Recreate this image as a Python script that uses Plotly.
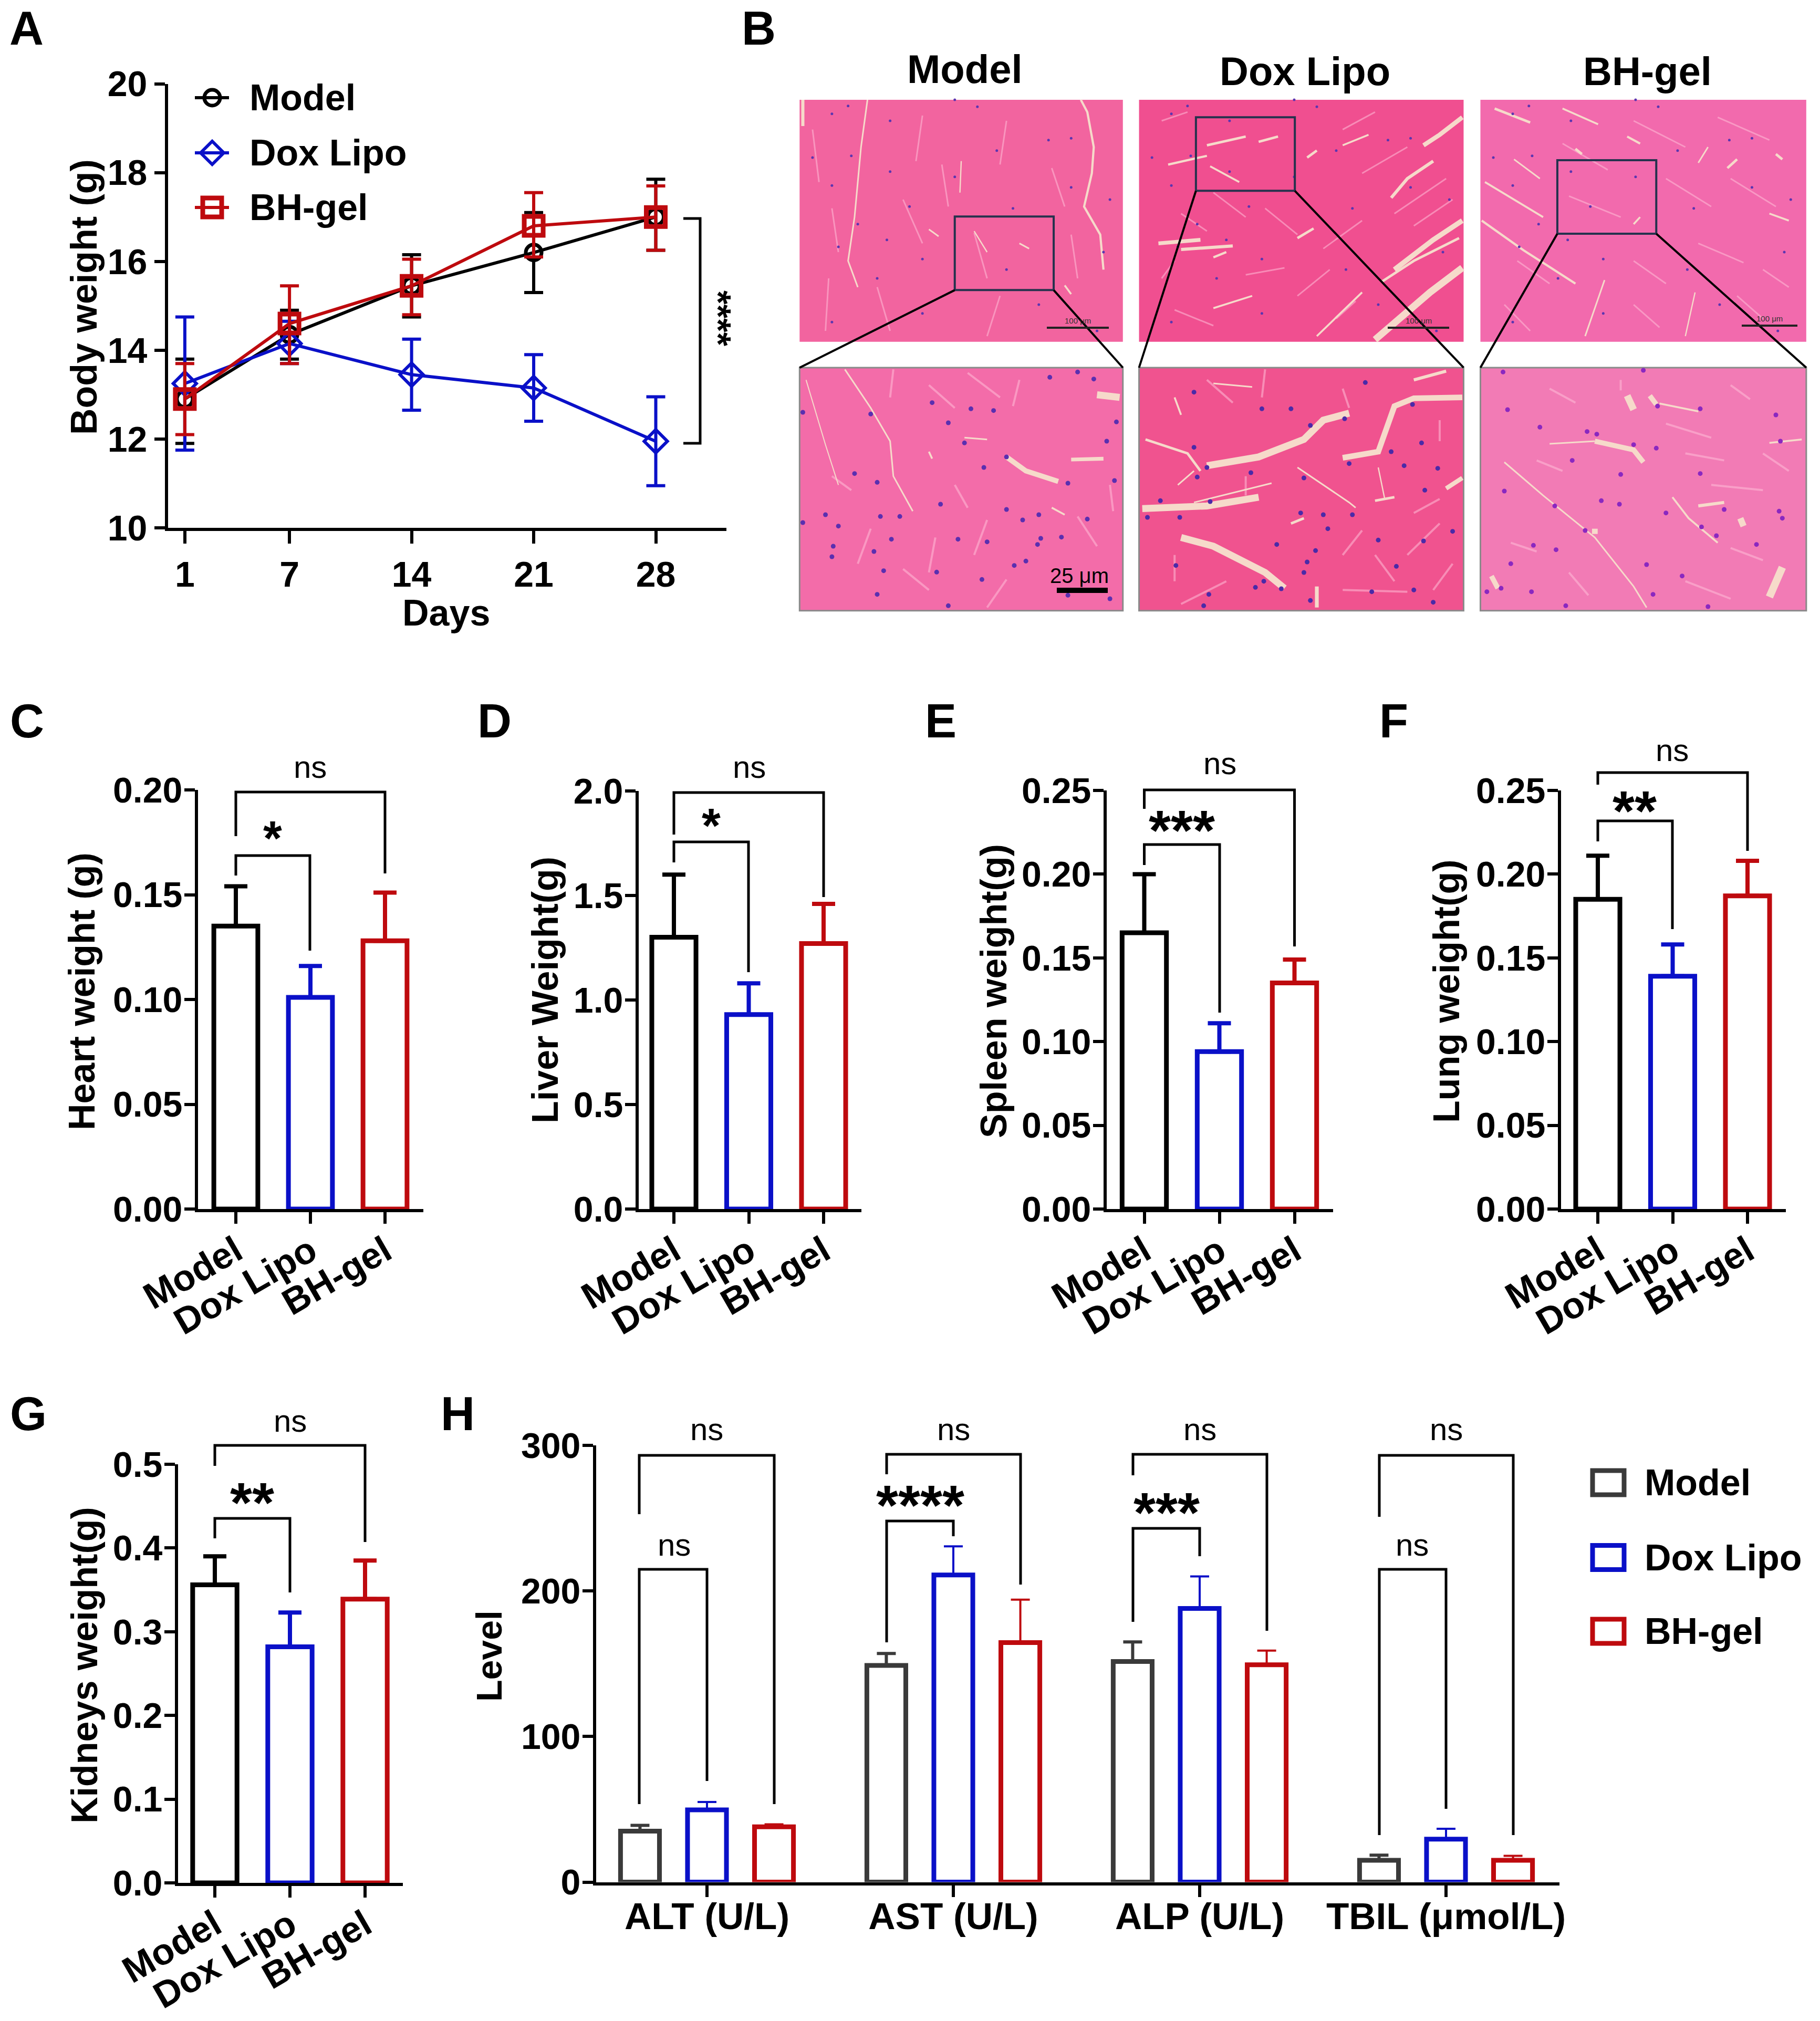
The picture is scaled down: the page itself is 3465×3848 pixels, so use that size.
import plotly.graph_objects as go

W, H = 3465, 3848
FONT = "Liberation Sans"
BLACK, BLUE, RED, GREY = "#000000", "#0A10C8", "#BE0A0E", "#3A3A3A"
GROUPS = ["Model", "Dox Lipo", "BH-gel"]

# ---- Panel A data
days = [1, 7, 14, 21, 28]
model_w = [12.9, 14.35, 15.45, 16.2, 17.0]
model_hi = [13.8, 14.9, 16.15, 17.1, 17.85]
model_lo = [11.9, 13.8, 14.75, 15.3, 16.25]
dox_w = [13.25, 14.15, 13.45, 13.15, 11.95]
dox_hi = [14.75, 14.65, 14.25, 13.9, 12.95]
dox_lo = [11.75, 13.7, 12.65, 12.4, 10.95]
bh_w = [12.9, 14.6, 15.45, 16.8, 17.0]
bh_hi = [13.7, 15.45, 16.05, 17.55, 17.7]
bh_lo = [12.1, 13.7, 14.8, 16.1, 16.25]

# ---- Organ weights: mean and top of error bar for Model, Dox Lipo, BH-gel
heart = [0.135, 0.101, 0.128]
heart_top = [0.154, 0.116, 0.151]
liver = [1.30, 0.93, 1.27]
liver_top = [1.60, 1.08, 1.46]
spleen = [0.165, 0.094, 0.135]
spleen_top = [0.200, 0.111, 0.149]
lung = [0.185, 0.139, 0.187]
lung_top = [0.211, 0.158, 0.208]
kidney = [0.356, 0.282, 0.339]
kidney_top = [0.390, 0.323, 0.385]

# ---- Panel H
tests = ["ALT (U/L)", "AST (U/L)", "ALP (U/L)", "TBIL (μmol/L)"]
h_model = [35, 148.8, 151.5, 15]
h_model_top = [39, 157, 165, 18.5]
h_dox = [49.6, 211, 188, 29.5]
h_dox_top = [55, 230.6, 210, 36.6]
h_bh = [38, 164.5, 149.3, 15]
h_bh_top = [39.7, 194, 159, 18]

fig = go.Figure()
layout = dict(width=W, height=H, margin=dict(l=0, r=0, t=0, b=0), autosize=False,
              paper_bgcolor="white", plot_bgcolor="rgba(0,0,0,0)", showlegend=False,
              barmode="overlay", font=dict(family=FONT, color="black"))
shapes, annos = [], []


def dom_x(a, b):
    return [a / W, b / W]


def dom_y(top, bottom):
    return [1 - bottom / H, 1 - top / H]


def text(x, y, s, size, bold=True, angle=0, anchor="center", family=FONT, color="black"):
    annos.append(dict(xref="paper", yref="paper", x=x / W, y=1 - y / H, text=s, showarrow=False,
                      xanchor=anchor, yanchor="middle", textangle=angle,
                      font=dict(family=family, size=size, color=color, weight=700 if bold else 400)))


def seg(pts, color="black", width=5, layer="above"):
    path = "M" + " L".join(f"{x / W:.5f},{1 - y / H:.5f}" for x, y in pts)
    shapes.append(dict(type="path", xref="paper", yref="paper", path=path,
                       line=dict(color=color, width=width), layer=layer))


def rect(x0, y0, x1, y1, fill=None, line=None, width=0, layer="above"):
    shapes.append(dict(type="rect", xref="paper", yref="paper", x0=x0 / W, x1=x1 / W,
                       y0=1 - y0 / H, y1=1 - y1 / H, fillcolor=fill or "rgba(0,0,0,0)",
                       line=dict(color=line or "rgba(0,0,0,0)", width=width), layer=layer))


def axes(i, left, right, top, bottom, xkw, ykw):
    base = dict(showgrid=False, zeroline=False, showline=True, linecolor="black", linewidth=6,
                ticks="outside", tickcolor="black", tickwidth=6, automargin=False,
                tickfont=dict(family=FONT, size=68, color="black", weight=700))
    suffix = "" if i == 1 else str(i)
    layout["xaxis" + suffix] = dict(base, domain=dom_x(left, right), anchor="y" + suffix, **xkw)
    layout["yaxis" + suffix] = dict(base, domain=dom_y(top, bottom), anchor="x" + suffix, ticklen=20, **ykw)


def bracket(x0, x1, top, drop0, drop1, width=5):
    seg([(x0, drop0), (x0, top), (x1, top), (x1, drop1)], width=width)


def stars(x, y, s, size=108):
    text(x, y + 0.17 * size - 5, s, size)


def ns(x, y):
    text(x, y - 5, "ns", 60, bold=False)


# ---- Panel A
axes(1, 320, 1383, 159.5, 1005,
     dict(range=[0.04, 32.05], tickvals=days, ticktext=[str(d) for d in days], ticklen=24),
     dict(range=[10, 20], tickvals=[10, 12, 14, 16, 18, 20]))
for name, w, hi, lo, color, sym, size, lw in [
    ("Model", model_w, model_hi, model_lo, BLACK, "circle-open", 30, 7),
    ("Dox Lipo", dox_w, dox_hi, dox_lo, BLUE, "diamond-open", 34, 6),
    ("BH-gel", bh_w, bh_hi, bh_lo, RED, "square-open", 36, 9),
]:
    fig.add_trace(go.Scatter(
        x=days, y=w, name=name, mode="lines+markers", cliponaxis=False,
        line=dict(color=color, width=6),
        marker=dict(symbol=sym, size=size, color=color, line=dict(color=color, width=lw)),
        error_y=dict(type="data", symmetric=False,
                     array=[a - b for a, b in zip(hi, w)], arrayminus=[b - c for b, c in zip(w, lo)],
                     color=color, thickness=6, width=18),
        xaxis="x", yaxis="y"))
text(849, 1167, "Days", 70)
text(160, 566, "Body weight (g)", 70, angle=-90)
seg([(1301, 416), (1333, 416), (1333, 844), (1301, 844)], width=5)
text(1368, 606, "****", 68, angle=90)

# ---- Panels C-G
panels = [
    (2, 377, 806, 1504, 2302, 449, 142, [0, 0.20], ["0.00", "0.05", "0.10", "0.15", "0.20"], heart, heart_top, "Heart weight (g)", 156, 1888),
    (3, 1216, 1640, 1506, 2302, 1283, 142.5, [0, 2.0], ["0.0", "0.5", "1.0", "1.5", "2.0"], liver, liver_top, "Liver Weight(g)", 1038, 1885),
    (4, 2107, 2538, 1505, 2302, 2178.5, 143, [0, 0.25], ["0.00", "0.05", "0.10", "0.15", "0.20", "0.25"], spleen, spleen_top, "Spleen weight(g)", 1892, 1887),
    (5, 2972, 3400, 1505, 2302, 3042, 142.5, [0, 0.25], ["0.00", "0.05", "0.10", "0.15", "0.20", "0.25"], lung, lung_top, "Lung weight(g)", 2754, 1887),
    (6, 339, 767, 2788, 3585, 409, 143, [0, 0.5], ["0.0", "0.1", "0.2", "0.3", "0.4", "0.5"], kidney, kidney_top, "Kidneys weight(g)", 161, 3171),
]
for i, l, r, t, b, c0, step, yr, yt, vals, tops, title, tx, ty_ in panels:
    axes(i, l, r, t, b,
         dict(type="category", categoryorder="array", categoryarray=GROUPS,
              range=[(l - c0) / step, (r - c0) / step], tickangle=-30, ticklen=22, ticklabelstandoff=-16,
              tickfont=dict(family=FONT, size=70, color="black", weight=700)),
         dict(range=yr, tickvals=[float(v) for v in yt], ticktext=yt, ticklabelstandoff=-10))
    for g, v, top, color in zip(GROUPS, vals, tops, [BLACK, BLUE, RED]):
        fig.add_trace(go.Bar(
            x=[g], y=[v], name=g, width=0.59, cliponaxis=False,
            marker=dict(color="white", line=dict(color=color, width=9)),
            error_y=dict(type="data", symmetric=False, array=[top - v], arrayminus=[0],
                         color=color, thickness=8, width=22),
            xaxis=f"x{i}", yaxis=f"y{i}"))
    text(tx, ty_, title, 70, angle=-90)

bracket(449, 733, 1508, 1592, 1663); bracket(449, 590, 1629, 1667, 1810)
ns(590, 1465); stars(519, 1585, "*", 92)
bracket(1283, 1568, 1509, 1589, 1708); bracket(1283, 1425, 1603, 1642, 1851)
ns(1426, 1465); stars(1354, 1561, "*", 92)
bracket(2178.5, 2464.5, 1504, 1540, 1802); bracket(2178.5, 2322, 1608, 1647, 1928)
ns(2322, 1459); stars(2250, 1567, "***")
bracket(3042, 3327, 1471, 1494, 1620); bracket(3042, 3184, 1563, 1602, 1769)
ns(3183, 1433); stars(3112, 1530, "**")
bracket(409, 695, 2752, 2791, 2936); bracket(409, 552, 2891, 2929, 3032)
ns(552, 2710); stars(480, 2847, "**")

# ---- Panel H
axes(7, 1135, 2969, 2752, 3583.5,
     dict(type="category", categoryorder="array", categoryarray=tests,
          range=[(1135 - 1346) / 469, (2969 - 1346) / 469], ticklen=22, tickangle=0, ticklabelstandoff=-24,
          tickfont=dict(family=FONT, size=71, color="black", weight=700)),
     dict(range=[0, 300], tickvals=[0, 100, 200, 300], ticklabelstandoff=-10))
for k, (name, v, top, color, th) in enumerate([
    ("Model", h_model, h_model_top, GREY, 6),
    ("Dox Lipo", h_dox, h_dox_top, BLUE, 4),
    ("BH-gel", h_bh, h_bh_top, RED, 4),
]):
    fig.add_trace(go.Bar(
        x=tests, y=v, name=name, width=0.158, offset=(k - 1) * 0.272 - 0.079, cliponaxis=False,
        marker=dict(color="white", line=dict(color=color, width=9)),
        error_y=dict(type="data", symmetric=False, array=[a - b for a, b in zip(top, v)],
                     arrayminus=[0] * 4, color=color, thickness=th, width=18),
        xaxis="x7", yaxis="y7"))
text(931, 3153, "Level", 68, angle=-90)
bracket(1217, 1474, 2771, 2883, 3435); bracket(1217, 1346, 2988, 3435, 3391)
ns(1345, 2726); ns(1283, 2946)
bracket(1688, 1943, 2769, 2807, 3017); bracket(1688, 1815, 2896, 3127, 2925)
ns(1815, 2726); stars(1751.5, 2852, "****")
bracket(2157, 2412, 2769, 2809, 3105); bracket(2157, 2284, 2910, 3088, 2963)
ns(2284, 2726); stars(2220.5, 2866, "***")
bracket(2626, 2881, 2771, 2888, 3494); bracket(2626, 2753, 2988, 3494, 3444)
ns(2753, 2726); ns(2688, 2946)

# ---- Overlay axes in page pixels: legend keys and micrograph nuclei
layout["xaxis8"] = dict(domain=[0, 1], range=[0, W], visible=False, anchor="y8", fixedrange=True, automargin=False)
layout["yaxis8"] = dict(domain=[0, 1], range=[H, 0], visible=False, anchor="x8", fixedrange=True, automargin=False)
for name, y, color, sym, size, lw in [("Model", 186, BLACK, "circle-open", 30, 7),
                                      ("Dox Lipo", 291, BLUE, "diamond-open", 34, 6),
                                      ("BH-gel", 395, RED, "square-open", 36, 9)]:
    fig.add_trace(go.Scatter(x=[371, 404, 436], y=[y, y, y], mode="lines", line=dict(color=color, width=6),
                             hoverinfo="skip", xaxis="x8", yaxis="y8"))
    fig.add_trace(go.Scatter(x=[404], y=[y], mode="markers", hoverinfo="skip",
                             marker=dict(symbol=sym, size=size, color=color, line=dict(color=color, width=lw)),
                             xaxis="x8", yaxis="y8"))
    text(473, y, name, 70, anchor="left")
for name, y, color in [("Model", 2823, GREY), ("Dox Lipo", 2965.5, BLUE), ("BH-gel", 3106, RED)]:
    rect(3032, y - 23, 3092, y + 23, fill="white", line=color, width=9)
    text(3129, y, name, 70, anchor="left")

# ---- Panel B: schematic micrographs (crop coordinates converted to page pixels)
CRACK, THIN = "#F6DACA", "rgba(255,190,215,0.55)"
CRACK_SCALE = 0.6


def cx(v):
    return 1510 + v / 0.8124


def ty(v):
    return 180 + v / 3


def by(v):
    return 690 + v / 3


cols = [(10, 510, "#F2649F", "#F36CA9"), (535, 1037, "#F04F90", "#F0538F"), (1063, 1567, "#F26AAD", "#F27BB5")]
boxes = [(250, 403, 697, 1117), (623, 776, 130, 550), (1182, 1335, 375, 795)]

top_thin = [
    [(30, 200), (40, 500)], [(200, 120), (190, 380)], [(330, 150), (320, 400)], [(400, 420), (420, 640)],
    [(60, 650), (70, 900)], [(170, 600), (200, 850)], [(280, 790), (300, 1050)], [(430, 800), (440, 1050)],
    [(130, 1100), (150, 1350)], [(320, 1150), (300, 1380)], [(230, 400), (240, 640)], [(55, 1050), (50, 1350)],
    [(900, 100), (850, 200)], [(950, 300), (880, 450)], [(1010, 480), (930, 680)], [(880, 720), (820, 880)],
    [(1020, 600), (960, 750)], [(570, 1050), (590, 950)], [(650, 560), (700, 700)], [(730, 650), (780, 800)],
    [(600, 680), (640, 780)], [(830, 1000), (780, 1150)], [(700, 1030), (760, 990)], [(590, 1230), (650, 1320)],
    [(840, 1280), (870, 1180)], [(570, 150), (610, 100)],
    [(1300, 150), (1380, 300)], [(1430, 130), (1510, 260)], [(1190, 280), (1260, 430)], [(1350, 480), (1420, 640)],
    [(1450, 480), (1520, 640)], [(1200, 580), (1280, 700)], [(1120, 950), (1170, 1080)], [(1400, 850), (1470, 960)],
    [(1300, 950), (1350, 1080)], [(1500, 1000), (1540, 1100)], [(1100, 1200), (1140, 1350)], [(1300, 1200), (1340, 1330)],
    [(1460, 1150), (1500, 1280)],
]
bottom_thin = [
    [(155, 40), (150, 200)], [(270, 60), (320, 200)], [(350, 100), (340, 250)], [(210, 130), (250, 260)],
    [(60, 650), (90, 730)], [(250, 700), (270, 830)], [(300, 900), (280, 1100)], [(440, 880), (470, 1050)],
    [(120, 950), (100, 1150)], [(220, 1000), (210, 1200)], [(330, 1240), (300, 1400)], [(490, 700), (495, 850)],
    [(170, 1180), (210, 1300)],
    [(640, 100), (680, 230)], [(730, 40), (725, 200)], [(850, 150), (860, 260)], [(1000, 330), (1000, 450)],
    [(700, 650), (700, 760)], [(1000, 780), (960, 860)], [(880, 960), (850, 1100)], [(1000, 920), (950, 1100)],
    [(590, 1100), (590, 1250)], [(670, 1250), (600, 1380)], [(850, 1300), (950, 1310)], [(900, 1100), (930, 1250)],
    [(1020, 1150), (990, 1300)],
    [(1280, 100), (1280, 160)], [(1170, 150), (1210, 230)], [(1450, 130), (1480, 210)], [(1350, 350), (1420, 430)],
    [(1150, 560), (1190, 620)], [(1380, 520), (1440, 560)], [(1500, 520), (1540, 620)], [(1420, 700), (1500, 730)],
    [(1450, 1060), (1500, 1130)], [(1110, 1030), (1150, 1080)], [(1380, 1250), (1450, 1350)], [(1200, 1200), (1230, 1330)],
]
top_cracks = [
    (5, [(115, 30), (105, 300), (95, 700), (85, 950), (100, 1100)]),
    (7, [(445, 30), (455, 100), (465, 300), (462, 450), (450, 640), (475, 800), (480, 1000)]),
    (10, [(15, 30), (15, 180)]), (4, [(260, 380), (258, 560)]), (4, [(280, 780), (300, 900)]),
    (5, [(350, 850), (365, 880)]), (5, [(210, 770), (225, 810)]), (6, [(420, 1090), (430, 1140)]),
    (14, [(1035, 130), (1000, 230), (975, 290)]), (10, [(990, 380), (950, 480), (925, 590)]),
    (16, [(1035, 720), (990, 830), (930, 1000)]), (22, [(1035, 990), (985, 1130), (900, 1400)]),
    (8, [(1030, 820), (960, 950), (910, 1070)]), (8, [(640, 290), (700, 240)]), (8, [(720, 270), (750, 240)]),
    (7, [(580, 400), (640, 350)]), (6, [(645, 410), (690, 500)]), (12, [(565, 850), (630, 830)]),
    (10, [(600, 885), (680, 865)]), (8, [(780, 820), (805, 765)]), (8, [(810, 320), (795, 360)]),
    (7, [(650, 930), (670, 900)]), (6, [(650, 1220), (710, 1150)]), (6, [(810, 1380), (880, 1130)]),
    (6, [(890, 230), (850, 290)]),
    (8, [(1085, 80), (1140, 160)]), (5, [(1115, 370), (1155, 480)]), (6, [(1070, 500), (1160, 700)]),
    (7, [(1065, 720), (1130, 890), (1210, 1080)]), (6, [(1190, 80), (1245, 170)]), (5, [(1225, 1380), (1255, 1060)]),
    (8, [(1460, 370), (1445, 420)]), (4, [(1380, 1380), (1395, 1130)]), (6, [(1510, 680), (1540, 720)]),
    (6, [(1300, 740), (1310, 700)]), (5, [(1415, 300), (1400, 390)]), (8, [(1210, 310), (1220, 340)]),
    (7, [(1290, 240), (1310, 280)]), (8, [(1520, 340), (1530, 370)]),
]
bottom_cracks = [
    (5, [(80, 40), (120, 260), (150, 450), (155, 650), (185, 850)]), (3, [(20, 100), (50, 470), (70, 700)]),
    (16, [(330, 540), (360, 620), (410, 680)]), (12, [(430, 555), (480, 550)]), (22, [(470, 185), (505, 200)]),
    (6, [(210, 510), (215, 550)]), (5, [(265, 430), (300, 440)]), (6, [(400, 830), (420, 870)]),
    (22, [(640, 590), (720, 540), (790, 440), (820, 330), (860, 290)]),
    (18, [(850, 545), (905, 510), (930, 250), (960, 205), (1035, 200)]),
    (22, [(540, 835), (640, 820), (720, 770)]), (22, [(600, 1000), (650, 1050), (730, 1200), (760, 1290)]),
    (6, [(590, 200), (600, 300)]), (8, [(545, 440), (610, 520), (630, 620)]), (12, [(810, 1280), (810, 1400)]),
    (8, [(900, 790), (930, 770)]), (14, [(1035, 660), (1010, 720)]), (8, [(770, 920), (790, 890)]),
    (5, [(650, 120), (710, 140)]), (10, [(960, 100), (1010, 50)]), (5, [(620, 620), (595, 700)]),
    (5, [(740, 690), (620, 800)]), (5, [(780, 600), (860, 800), (870, 830)]), (4, [(905, 600), (915, 780)]),
    (16, [(1240, 450), (1300, 500), (1315, 570)]), (22, [(1290, 190), (1300, 270)]), (16, [(1325, 190), (1335, 240)]),
    (6, [(1340, 235), (1400, 280)]), (5, [(1100, 570), (1160, 760), (1240, 1000), (1300, 1280), (1320, 1400)]),
    (18, [(1240, 950), (1240, 980)]), (6, [(1360, 770), (1385, 890), (1430, 1030)]), (20, [(1465, 890), (1470, 935)]),
    (24, [(1530, 1170), (1510, 1340)]), (16, [(1080, 1220), (1090, 1290)]), (10, [(1400, 820), (1440, 800)]),
    (5, [(1170, 465), (1240, 450)]), (6, [(1510, 460), (1560, 440)]),
]
for (a, b, ctop, cbot) in cols:
    rect(cx(a), ty(30), cx(b), ty(1412), fill=ctop, layer="below")
    rect(cx(a), by(30), cx(b), by(1418), fill=cbot, line="#8A8A8A", width=3, layer="below")
for c in top_thin:
    seg([(cx(x), ty(y)) for x, y in c], color=THIN, width=3, layer="below")
for c in bottom_thin:
    seg([(cx(x), by(y)) for x, y in c], color=THIN, width=4, layer="below")
for wid, c in top_cracks:
    seg([(cx(x), ty(y)) for x, y in c], color=CRACK, width=max(2, wid * CRACK_SCALE), layer="below")
for wid, c in bottom_cracks:
    seg([(cx(x), by(y)) for x, y in c], color=CRACK, width=max(2, wid * CRACK_SCALE), layer="below")

nuclei_m = [(15, 285), (120, 295), (215, 230), (240, 345), (265, 460), (330, 540), (295, 600), (95, 635), (130, 685),
            (228, 810), (50, 870), (15, 915), (70, 935), (152, 1010), (62, 1050), (125, 1080), (60, 1110), (255, 1010),
            (300, 1025), (378, 1040), (383, 1005), (415, 998), (330, 840), (355, 900), (455, 895), (380, 870), (425, 690),
            (497, 675), (485, 450), (397, 85), (465, 95), (440, 55), (360, 1135), (342, 1160), (140, 1190), (222, 1198),
            (292, 1240), (130, 1325), (240, 1390), (425, 1330), (490, 1350), (310, 275), (275, 265), (500, 340), (165, 880), (135, 880)]
nuclei_d = [(725, 265), (770, 265), (800, 360), (853, 322), (958, 240), (885, 115), (620, 485), (640, 600), (625, 655),
            (708, 630), (790, 660), (860, 578), (925, 510), (945, 590), (997, 605), (972, 460), (977, 730), (645, 795),
            (568, 790), (548, 885), (598, 885), (785, 860), (820, 870), (865, 870), (827, 950), (748, 1040), (808, 1075),
            (795, 1140), (592, 1160), (790, 1200), (933, 1165), (728, 1250), (755, 1293), (960, 1300), (715, 1285),
            (895, 1310), (643, 1325), (800, 1360), (990, 1370), (635, 1390), (1020, 965), (905, 1015), (975, 1020), (620, 170)]
nuclei_b = [(1098, 55), (1315, 45), (1105, 270), (1155, 370), (1228, 395), (1243, 410), (1300, 470), (1335, 490), (1337, 250),
            (1403, 265), (1520, 300), (1527, 450), (1205, 560), (1280, 640), (1403, 635), (1100, 735), (1250, 790), (1278, 810),
            (1350, 860), (1178, 820), (1440, 840), (1525, 850), (1405, 940), (1428, 990), (1145, 1045), (1180, 1070), (1110, 1150),
            (1320, 1155), (1375, 1220), (1095, 1290), (1142, 1310), (1330, 1325), (1195, 1390), (1415, 1395), (1073, 1310),
            (1225, 960), (1490, 1040), (1530, 890)]
for pts, col in [(nuclei_m, "#5A2FB0"), (nuclei_d, "#4A2AA8"), (nuclei_b, "#8A28C0")]:
    fig.add_trace(go.Scatter(x=[cx(p[0]) for p in pts], y=[by(p[1]) for p in pts], mode="markers",
                             marker=dict(color=col, size=9), hoverinfo="skip", xaxis="x8", yaxis="y8"))
top_dots = [(60, 110), (85, 65), (150, 150), (285, 70), (250, 30), (90, 350), (30, 360), (150, 440), (60, 520), (315, 320),
            (395, 260), (145, 830), (100, 740), (180, 640), (250, 470), (340, 650), (430, 530), (490, 600), (70, 870),
            (200, 940), (330, 1000), (480, 900), (380, 1200), (200, 1250), (60, 1300), (470, 1350), (130, 1050), (430, 250)]
for off in (0, 525, 1053):
    fig.add_trace(go.Scatter(x=[cx(p[0] + off) for p in top_dots], y=[ty(p[1]) for p in top_dots], mode="markers",
                             marker=dict(color="#5A35B0", size=5), hoverinfo="skip", xaxis="x8", yaxis="y8"))

for (a, b, _, _), (bx0, bx1, by0, by1) in zip(cols, boxes):
    rect(cx(bx0), ty(by0), cx(bx1), ty(by1), line="#26324E", width=4)
    seg([(cx(bx0), ty(by1)), (cx(a), by(30))], width=4)
    seg([(cx(bx1), ty(by1)), (cx(b), by(30))], width=4)
for x0, x1, y in [(1993, 2111, 624), (2642, 2759, 624), (3316, 3422, 620)]:
    seg([(x0, y), (x1, y)], color="#222222", width=4)
    text((x0 + x1) / 2, y - 14, "100 μm", 15, bold=False, color="#333333")
text(2055, 1096, "25 μm", 40, bold=False)
seg([(2012, 1124), (2109, 1124)], width=10)
text(1837, 132, "Model", 76)
text(2484, 136, "Dox Lipo", 76)
text(3136, 136, "BH-gel", 76)

# ---- Panel letters
for s, x, y in [("A", 16, 54), ("B", 1410, 54), ("C", 17, 1373), ("D", 907, 1373), ("E", 1759, 1373),
                ("F", 2624, 1373), ("G", 17, 2692), ("H", 837, 2692)]:
    text(x, y, s, 90, anchor="left")

layout["shapes"] = shapes
layout["annotations"] = annos
fig.update_layout(**layout)
fig.write_html("out.html", post_script="document.body.style.margin='0';", config=dict(displayModeBar=False))
